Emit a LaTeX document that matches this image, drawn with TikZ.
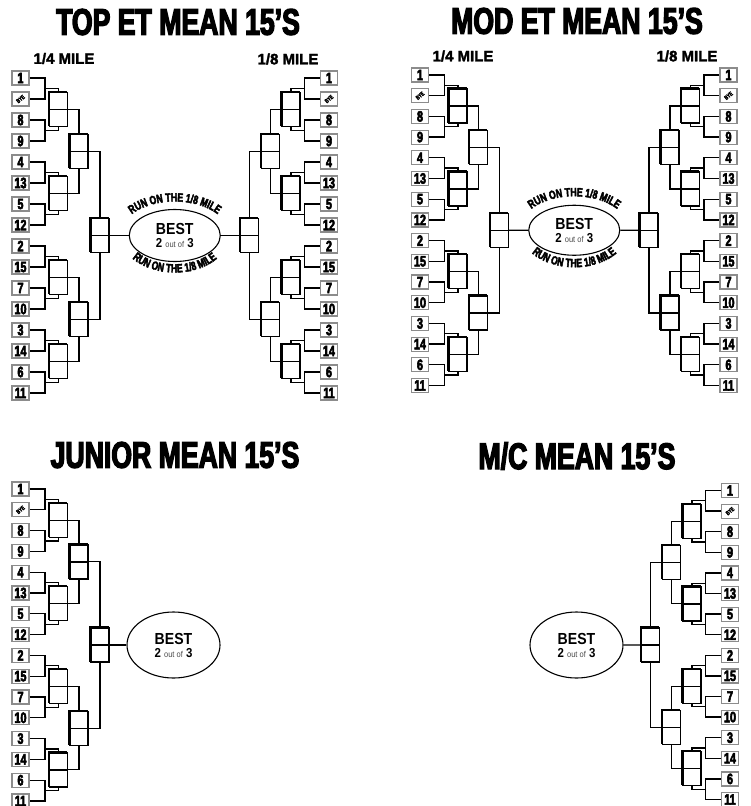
\documentclass[tikz,border=0pt]{standalone}
\usepackage{fontspec}
\setmainfont{Liberation Sans}
\newfontfamily\heavyfont[UprightFont={* Bold},FakeStretch=0.72,FakeBold=3.5]{Liberation Sans}
\newfontfamily\milefont[UprightFont={* Bold},FakeBold=2]{Liberation Sans}
\newfontfamily\ovalfont[FakeStretch=0.88]{Liberation Sans}
\usetikzlibrary{shapes.geometric,shadows,decorations.text}

\newcommand{\byetext}{\rotatebox{40}{\fontsize{6}{6}\selectfont\bfseries BYE}}
\newcommand{\besttext}{{\ovalfont\bfseries\fontsize{16}{17}\selectfont BEST}\\[1pt]%
  {\ovalfont\bfseries\fontsize{13}{14}\selectfont 2 {\mdseries\fontsize{8.5}{9}\selectfont\color{black!70}out of} 3}}

% one half of a 16-seed ladder: name, seed x, first seed y, spacing, side (1 or -1), exit anchor
\newcommand{\halfbracket}[6]{%
  \foreach \lab [count=\i from 0] in {1,\byetext,8,9,4,13,5,12,2,15,7,10,3,14,6,11}
    \node[seed] (#1-s\i) at (#2, {#3+\i*#4}) {\lab};
  \foreach \p/\ia/\ib in {0/0/1,1/2/3,2/4/5,3/6/7,4/8/9,5/10/11,6/12/13,7/14/15} {
    \coordinate (#1-j\p) at ({#2+(#5)*24.5}, {#3+(2*\p+0.5)*#4});
    \draw[wire] (#1-s\ia.#6) -| (#1-j\p) |- (#1-s\ib.#6);
  }
  \foreach \q in {0,...,3}
    \node[heat] (#1-a\q) at ({#2+(#5)*38}, {#3+(4*\q+1.5)*#4}) {};
  \foreach \r in {0,1}
    \node[heat] (#1-b\r) at ({#2+(#5)*58.5}, {#3+(8*\r+3.5)*#4}) {};
  \node[heat] (#1-c) at ({#2+(#5)*79.5}, {#3+7.5*#4}) {};
  \foreach \p/\q/\e in {0/0/north,1/0/south,2/1/north,3/1/south,4/2/north,5/2/south,6/3/north,7/3/south}
    \draw[wire] (#1-j\p) -| (#1-a\q.\e);
  \foreach \q/\r/\e in {0/0/north,1/0/south,2/1/north,3/1/south}
    \draw[wire] (#1-a\q.#6) -| (#1-b\r.\e);
  \draw[wire] (#1-b0.#6) -| (#1-c.north);
  \draw[wire] (#1-b1.#6) -| (#1-c.south);
}

% curved lines of text over and under an oval
\newcommand{\runmile}[1]{%
  \path[decorate, decoration={text along path, text align=center,
      text={|\heavyfont\fontsize{12}{12}\selectfont|RUN ON THE 1/8 MILE}}]
    (#1.center) ++(190:55 and 34) arc[start angle=190, end angle=350, x radius=55, y radius=34];
  \path[decorate, decoration={text along path, text align=center,
      text={|\heavyfont\fontsize{12}{12}\selectfont|RUN ON THE 1/8 MILE}}]
    (#1.center) ++(170:54 and 37) arc[start angle=170, end angle=10, x radius=54, y radius=37];
}

\begin{document}
\begin{tikzpicture}[x=1pt, y=-1pt,
    seed/.style={draw=black!45, line width=1.2pt, fill=white, minimum width=17pt, minimum height=14pt,
      inner sep=0pt, font=\heavyfont\fontsize{15}{13}\selectfont},
    heat/.style={draw, line width=1.4pt, fill=white, minimum width=18pt, minimum height=34pt, inner sep=0pt,
      copy shadow={shadow xshift=-1pt, shadow yshift=1pt},
      path picture={\draw[line width=1.4pt] (path picture bounding box.west) -- (path picture bounding box.east);}},
    wire/.style={line width=1.35pt},
    oval/.style={ellipse, draw, line width=1.1pt, fill=white, inner sep=0pt, align=center},
    title/.style={font=\heavyfont\fontsize{37}{37}\selectfont, inner sep=0pt},
    mile/.style={font=\milefont\fontsize{15}{15}\selectfont, inner sep=0pt},
  ]
  \useasboundingbox (0,0) rectangle (750,806);

  % top et
  \node[title] (top-title) at (178,22) {TOP ET MEAN 15’S};
  \node[mile] (top-quarter) at (64,58.5) {1/4 MILE};
  \node[mile] (top-eighth) at (288,59) {1/8 MILE};
  \halfbracket{top-l}{20.5}{78}{21}{1}{east}
  \halfbracket{top-r}{329}{78}{21}{-1}{west}
  \node[oval, minimum width=91pt, minimum height=52pt] (top-best) at (174.75,235.5) {\besttext};
  \draw[wire] (top-l-c.east) -- (top-best.west);
  \draw[wire] (top-r-c.west) -- (top-best.east);
  \runmile{top-best}

  % mod et
  \node[title] (mod-title) at (577,21) {MOD ET MEAN 15’S};
  \node[mile] (mod-quarter) at (463,56) {1/4 MILE};
  \node[mile] (mod-eighth) at (687,56) {1/8 MILE};
  \halfbracket{mod-l}{420}{75}{20.7}{1}{east}
  \halfbracket{mod-r}{728.5}{75}{20.7}{-1}{west}
  \node[oval, minimum width=91pt, minimum height=50pt] (mod-best) at (574.25,230.25) {\besttext};
  \draw[wire] (mod-l-c.east) -- (mod-best.west);
  \draw[wire] (mod-r-c.west) -- (mod-best.east);
  \runmile{mod-best}

  % junior
  \node[title] (jun-title) at (175,455) {JUNIOR MEAN 15’S};
  \halfbracket{jun-l}{20.5}{489}{20.8}{1}{east}
  \node[oval, minimum width=93pt, minimum height=66pt] (jun-best) at (173.5,645) {\besttext};
  \draw[wire] (jun-l-c.east) -- (jun-best.west);

  % m/c
  \node[title] (mc-title) at (577,456) {M/C MEAN 15’S};
  \halfbracket{mc-r}{730}{490.5}{20.6}{-1}{west}
  \node[oval, minimum width=93pt, minimum height=66pt] (mc-best) at (576.5,645) {\besttext};
  \draw[wire] (mc-r-c.west) -- (mc-best.east);
\end{tikzpicture}
\end{document}
